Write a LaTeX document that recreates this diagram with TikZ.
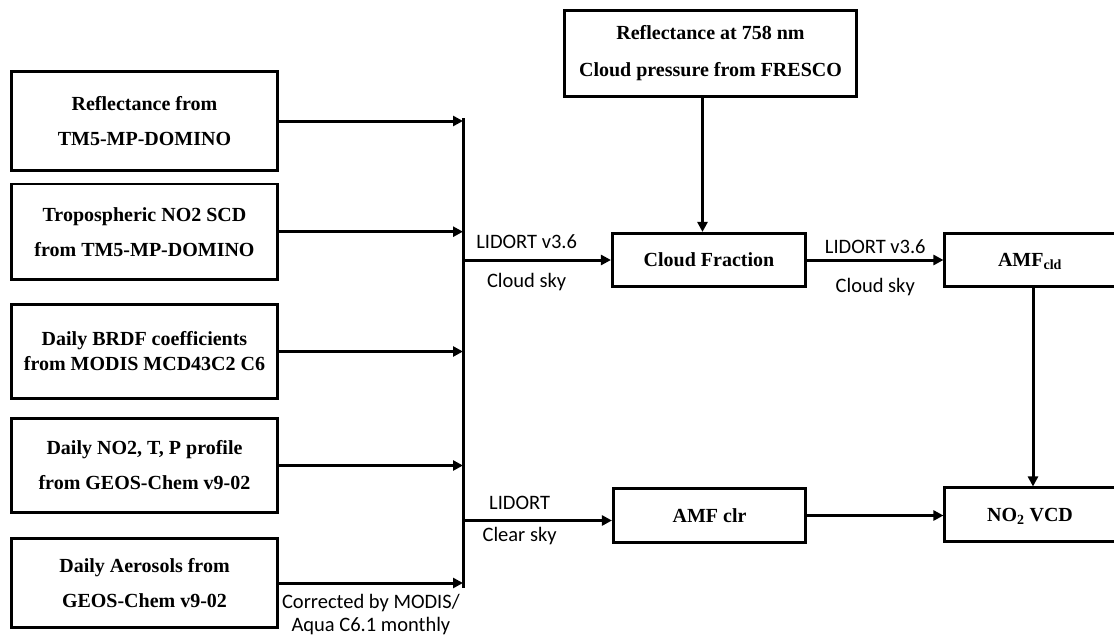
\documentclass[tikz,border=0pt]{standalone}
\usepackage{fontspec}
\setmainfont{Liberation Serif}
\newfontfamily\calib{Carlito}
\usetikzlibrary{arrows.meta}

\begin{document}
\begin{tikzpicture}[x=1pt,y=-1pt]
\tikzstyle{src}=[draw,line width=2.6pt,text centered,align=center,minimum width=266pt,font=\fontsize{20}{35}\selectfont\bfseries];
\tikzstyle{res}=[draw,line width=2.6pt,text centered,minimum height=53.5pt,font=\fontsize{20}{37}\selectfont\bfseries];
\tikzstyle{flow}=[-{Triangle[length=10pt,width=10pt]},line width=3pt];
\tikzstyle{lab}=[font=\fontsize{20.5}{23}\selectfont\calib,align=center,inner sep=1pt];

\useasboundingbox (0,0) rectangle (1114,637);

\node [src,minimum height=99.5pt] (v1) at (144.5,121) {Reflectance from\\TM5-MP-DOMINO};
\node [src,minimum height=95.5pt] (v2) at (144.5,231.7) {Tropospheric NO2 SCD\\from TM5-MP-DOMINO};
\node [src,minimum height=94.5pt] (v3) at (144.5,351.5) {Daily BRDF coefficients\\[-10pt]from MODIS MCD43C2 C6};
\node [src,minimum height=94.5pt] (v4) at (144.5,465.5) {Daily NO2, T, P profile\\from GEOS-Chem v9-02};
\node [src,minimum height=89.5pt] (v5) at (144.5,583) {Daily Aerosols from\\GEOS-Chem v9-02};

\coordinate (c1) at (463,118);
\coordinate (c2) at (463,588);
\draw [line width=3pt] (c1) -- (c2);

\draw [flow] (v1) -- (v1 -| c1);
\draw [flow] (v2) -- (v2 -| c1);
\draw [flow] (v3) -- (v3 -| c1);
\draw [flow] (v4) -- (v4 -| c1);
\draw [flow] (v5) -- (v5 -| c1)
  node [lab,below=9pt,midway] {Corrected by MODIS/\\Aqua C6.1 monthly};

%%

\node [res,align=center,minimum width=292.5pt,minimum height=86.5pt] (v6) at (710.5,53.5) {Reflectance at 758 nm\\Cloud pressure from FRESCO};
\node [res,minimum width=193.5pt] (v7) at (709,260) {Cloud Fraction};
\node [res,text depth=0pt,minimum width=170.5pt] (v8) at (1030,260) {AMF\textsubscript{cld}};

\draw [flow] ([xshift=-8pt]v6.south) -- ([xshift=-8pt]v6.south |- v7.north);
\draw [flow] (v7 -| c1) -- (v7)
  node [lab,above=9pt,pos=0.43] {LIDORT v3.6}
  node [lab,below=11pt,pos=0.43] {Cloud sky};
\draw [flow] (v7) -- (v7 -| v8.west)
  node [lab,above=4pt,midway] {LIDORT v3.6}
  node [lab,below=16pt,midway] {Cloud sky};

%%

\node [res,minimum width=192.5pt,minimum height=54.5pt] (v9) at (709.5,515.5) {AMF clr};
\node [res,text depth=0pt,minimum width=170.5pt] (v10) at (1030,514.5) {NO\textsubscript{2} VCD};

\draw [flow] ([yshift=-5pt]v9.west -| c1) -- ([yshift=-5pt]v9.west)
  node [lab,above=8pt,pos=0.38] {LIDORT}
  node [lab,below=4pt,pos=0.38] {Clear sky};
\draw [flow] (v9) -- (v9 -| v10.west);
\draw [flow] ([xshift=3pt]v8.south) -- ([xshift=3pt]v8.south |- v10.north);
\end{tikzpicture}
\end{document}
